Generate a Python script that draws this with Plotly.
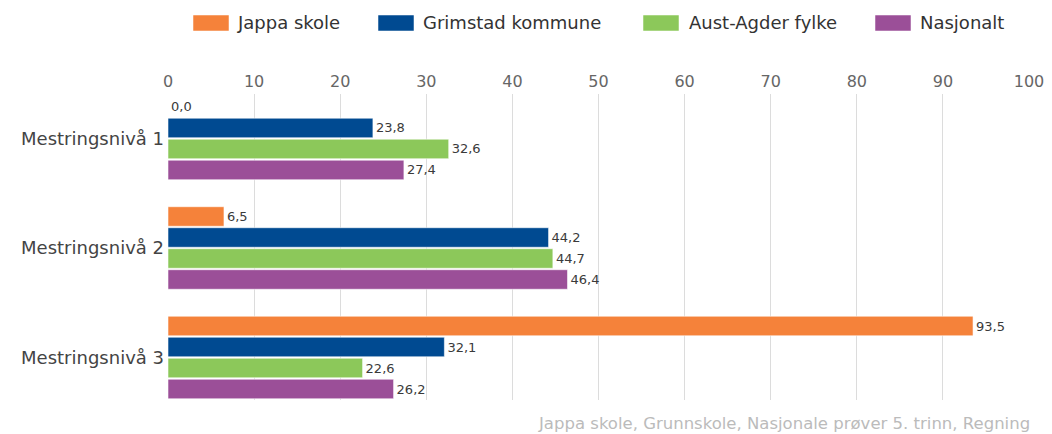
import plotly.graph_objects as go

categories = ["Mestringsnivå 1", "Mestringsnivå 2", "Mestringsnivå 3"]
series_names = ["Jappa skole", "Grimstad kommune", "Aust-Agder fylke", "Nasjonalt"]
jappa = [0.0, 6.5, 93.5]
grimstad = [23.8, 44.2, 32.1]
aust_agder = [32.6, 44.7, 22.6]
nasjonalt = [27.4, 46.4, 26.2]
x_ticks = [0, 10, 20, 30, 40, 50, 60, 70, 80, 90, 100]
caption = "Jappa skole, Grunnskole, Nasjonale prøver 5. trinn, Regning"

colors = ["#F5823A", "#004A91", "#8CC85A", "#9B4F98"]
series_values = [jappa, grimstad, aust_agder, nasjonalt]

W, H = 1052, 434
L, R, T, B = 168, 23, 94, 34
PW, PH = W - L - R, H - T - B
FONT = "DejaVu Sans"


def px2x(px):
    return (px - L) / PW


def px2y(py):
    return (H - B - py) / PH


fig = go.Figure()
for name, vals, col in zip(series_names, series_values, colors):
    fig.add_trace(go.Bar(
        y=categories, x=vals, orientation="h", name=name,
        marker=dict(color=col, line=dict(color="rgba(255,255,255,0.55)", width=1)),
        texttemplate="%{x:.1f}", textposition="outside",
        textfont=dict(family=FONT, size=13, color="#3a3a3a"),
        cliponaxis=False, showlegend=False,
    ))

shapes = []
annotations = []
legend_pos = [(193, 237), (378, 423), (643, 689), (875, 920)]
for (sx, tx), name, col in zip(legend_pos, series_names, colors):
    shapes.append(dict(type="rect", xref="paper", yref="paper",
                       x0=px2x(sx), x1=px2x(sx + 36), y0=px2y(31), y1=px2y(15),
                       fillcolor=col, line=dict(color="rgba(255,255,255,0.5)", width=1)))
    annotations.append(dict(text=name, xref="paper", yref="paper", x=px2x(tx - 2), y=px2y(23),
                            xanchor="left", yanchor="middle", showarrow=False,
                            font=dict(family=FONT, size=18, color="#333333")))

annotations.append(dict(text=caption, xref="paper", yref="paper", x=px2x(1032), y=px2y(423),
                        xanchor="right", yanchor="middle", showarrow=False,
                        font=dict(family=FONT, size=16.5, color="#bbbbbb")))

fig.update_layout(
    width=W, height=H,
    margin=dict(l=L, r=R, t=T, b=B, autoexpand=False),
    paper_bgcolor="white", plot_bgcolor="white",
    barmode="group", bargap=0.233, bargroupgap=0.07,
    separators=", ",
    shapes=shapes, annotations=annotations,
    showlegend=False,
    xaxis=dict(range=[0, 100], side="top", tickvals=x_ticks, showgrid=True,
               gridcolor="#dcdcdc", gridwidth=1, zeroline=False, showline=False,
               ticks="", ticklabelstandoff=3,
               tickfont=dict(family=FONT, size=16, color="#666666"), fixedrange=True),
    yaxis=dict(type="category", categoryarray=categories, categoryorder="array",
               range=[2.388, -0.406], showgrid=False, zeroline=False, showline=False,
               ticks="", ticklabelstandoff=3,
               tickfont=dict(family=FONT, size=18, color="#444444"), fixedrange=True),
)

fig.write_html("out.html", post_script="document.body.style.margin='0';",
               config={"displayModeBar": False})
